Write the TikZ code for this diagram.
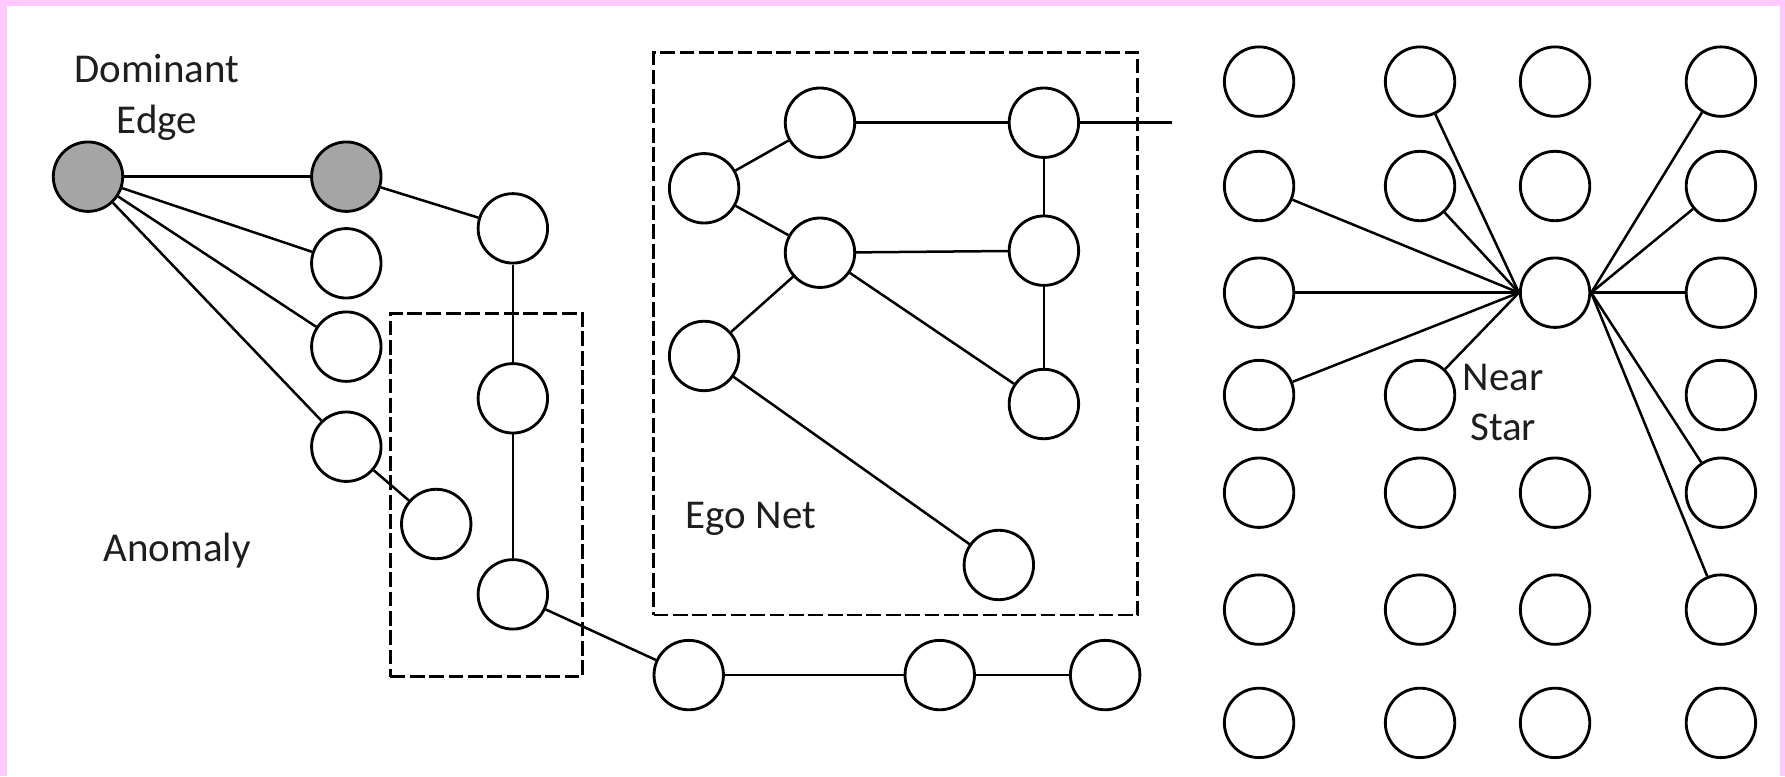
\documentclass[tikz,border=0pt]{standalone}
\usepackage{fontspec}
\setmainfont{Carlito}
\definecolor{framepink}{RGB}{255,200,255}
\definecolor{nodegray}{RGB}{165,165,165}
\definecolor{inkgray}{RGB}{30,30,30}
\begin{document}
\begin{tikzpicture}[x=1pt,y=-1pt,
  vtx/.style={circle,draw=black,line width=2.5pt,minimum size=61pt,inner sep=0pt,fill=white},
  hot/.style={vtx,fill=nodegray},
  edge/.style={line width=2.2pt,draw=black},
  region/.style={rectangle,draw=black,line width=2.5pt,dash pattern=on 13pt off 4pt,inner sep=0pt},
  lbl/.style={font=\fontsize{36}{44.5}\selectfont,text=inkgray,align=center,anchor=base,inner sep=0pt}
]
\useasboundingbox (0,0) rectangle (1568,681.7);
\fill[framepink] (0,0) rectangle (1568,5.3);
\fill[framepink] (0,0) rectangle (6,681.7);
\fill[framepink] (1563.6,0) rectangle (1568,681.7);

% dashed regions
\node[region,minimum width=168.7pt,minimum height=319.2pt] (anombox) at (427.35,434.8) {};
\node[region,minimum width=425.3pt,minimum height=494.2pt] (egobox) at (786.75,293.1) {};

% left graph
\node[hot] (dom) at (77.3,155.2) {};
\node[hot] (g2) at (304.2,155.2) {};
\node[vtx] (l1) at (304.2,231.3) {};
\node[vtx] (l2) at (304.2,304.5) {};
\node[vtx] (l3) at (304.2,392.4) {};
\node[vtx] (l4) at (383.2,460.3) {};
\node[vtx] (v1) at (450.5,200.6) {};
\node[vtx] (v2) at (450.5,349.9) {};
\node[vtx] (v3) at (450.5,522.1) {};

% ego net
\node[vtx] (ea) at (720.3,107.8) {};
\node[vtx] (eb) at (917,107.8) {};
\node[vtx] (ec) at (618.5,165.4) {};
\node[vtx] (ed) at (720.3,222) {};
\node[vtx] (ee) at (917,220.2) {};
\node[vtx] (ef) at (618.5,312.7) {};
\node[vtx] (eg) at (917,354.9) {};
\node[vtx] (eh) at (877.4,496.3) {};
\coordinate (eout) at (1029.6,107.8);

% chain
\node[vtx] (c1) at (605,593) {};
\node[vtx] (c2) at (825.5,593) {};
\node[vtx] (c3) at (970.8,593) {};

% grid
\foreach \c/\x in {1/1106,2/1247.4,3/1366,4/1511.7}{
  \foreach \r/\y in {1/71.7,2/163.4,5/432.8,6/535.5,7/635}{
    \node[vtx] (s\c\r) at (\x,\y) {};
  }
}
\node[vtx] (s13) at (1106,257.1) {};
\node[vtx] (s33) at (1366,257.1) {};
\node[vtx] (s43) at (1511.7,257.1) {};
\node[vtx] (s14) at (1106,347) {};
\node[vtx] (s24) at (1247.4,347) {};
\node[vtx] (s44) at (1511.7,347) {};

% edges left
\draw[edge] (dom) -- (g2);
\draw[edge] (dom) -- (l1);
\draw[edge] (dom) -- (l2);
\draw[edge] (dom) -- (l3);
\draw[edge] (l3) -- (l4);
\draw[edge] (g2) -- (v1);
\draw[edge] (v1) -- (v2);
\draw[edge] (v2) -- (v3);
\draw[edge] (v3) -- (c1);
\draw[edge] (c1) -- (c2);
\draw[edge] (c2) -- (c3);

% edges ego
\draw[edge] (ec) -- (ea);
\draw[edge] (ec) -- (ed);
\draw[edge] (ea) -- (eb);
\draw[edge] (eb) -- (ee);
\draw[edge] (ed) -- (ee);
\draw[edge] (ee) -- (eg);
\draw[edge] (ed) -- (eg);
\draw[edge] (ef) -- (ed);
\draw[edge] (ef) -- (eh);
\draw[edge] (eb) -- (eout);

% near star edges
\foreach \t in {s12,s13,s14,s21,s22,s24}{
  \draw[edge] (s33.west) -- (\t);
}
\foreach \t in {s41,s42,s43,s45,s46}{
  \draw[edge] (s33.east) -- (\t);
}

% labels (base anchor = baseline of last line)
\node[lbl] (tdom) at (137.8,117.1) {Dominant\\Edge};
\node[lbl] (tanom) at (155.5,493.4) {Anomaly};
\node[lbl] (tego) at (659.5,464) {Ego Net};
\node[lbl] (tnear) at (1320.5,387.1) {Near\\Star};
\end{tikzpicture}
\end{document}
